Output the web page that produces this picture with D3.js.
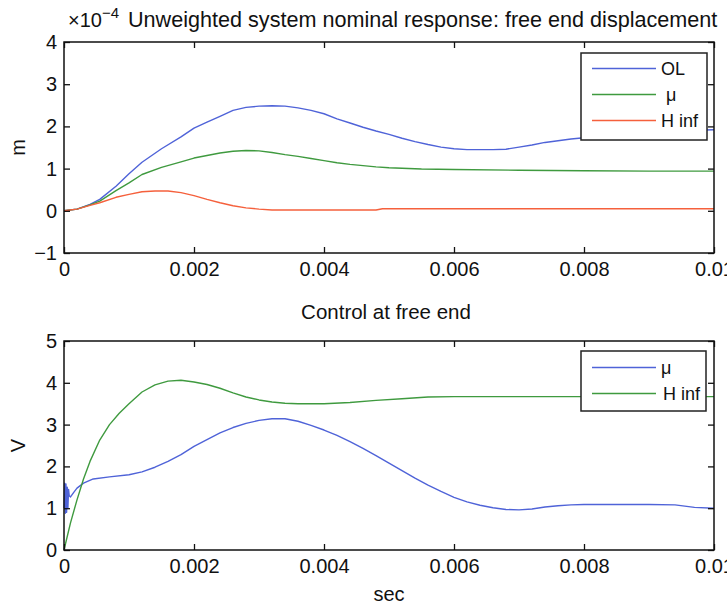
<!DOCTYPE html>
<html>
<head>
<meta charset="utf-8">
<script src="https://cdn.jsdelivr.net/npm/d3@7"></script>
<style>
  body { margin: 0; background: #fff; }
  svg text { font-family: "Liberation Sans", Arial, Helvetica, sans-serif; fill: #111; }
</style>
</head>
<body>
<script>
// two stacked panels: free end displacement (top) and control voltage (bottom)

// ---- data ----
var xTicks = [0, 0.002, 0.004, 0.006, 0.008, 0.01];
var topYTicks = [-1, 0, 1, 2, 3, 4];
var botYTicks = [0, 1, 2, 3, 4, 5];

// top panel, values in units of 1e-4 m
var olT = [0, 0.0002, 0.0004, 0.00055, 0.0008, 0.001, 0.0012, 0.0015, 0.0018, 0.002, 0.0022, 0.0024, 0.0026, 0.0028, 0.003, 0.0032, 0.0034, 0.0036, 0.0038, 0.004, 0.0042, 0.0044, 0.0046, 0.0048, 0.005, 0.0052, 0.0054, 0.0056, 0.0058, 0.006, 0.0062, 0.0064, 0.0066, 0.0068, 0.007, 0.0072, 0.0074, 0.0076, 0.0078, 0.008, 0.0085, 0.009, 0.0095, 0.01];
var olV = [0, 0.04, 0.15, 0.27, 0.58, 0.88, 1.15, 1.47, 1.75, 1.96, 2.1, 2.24, 2.38, 2.45, 2.48, 2.49, 2.48, 2.44, 2.38, 2.3, 2.18, 2.08, 1.98, 1.89, 1.81, 1.72, 1.64, 1.57, 1.51, 1.47, 1.45, 1.45, 1.45, 1.46, 1.51, 1.56, 1.62, 1.66, 1.7, 1.73, 1.8, 1.86, 1.9, 1.92];

var muT = [0, 0.0002, 0.0004, 0.00055, 0.0008, 0.001, 0.0012, 0.0015, 0.0018, 0.002, 0.0022, 0.0024, 0.0026, 0.0028, 0.003, 0.0032, 0.0034, 0.0036, 0.0038, 0.004, 0.0042, 0.0044, 0.0046, 0.0048, 0.005, 0.0055, 0.006, 0.007, 0.008, 0.009, 0.01];
var muV = [0, 0.04, 0.14, 0.23, 0.48, 0.66, 0.86, 1.03, 1.16, 1.25, 1.31, 1.37, 1.41, 1.43, 1.42, 1.38, 1.33, 1.29, 1.24, 1.19, 1.14, 1.1, 1.07, 1.04, 1.02, 0.99, 0.98, 0.96, 0.95, 0.94, 0.94];

var hinfT = [0, 0.0002, 0.0004, 0.00055, 0.0008, 0.001, 0.0012, 0.0014, 0.0016, 0.0018, 0.002, 0.0022, 0.0024, 0.0026, 0.0028, 0.003, 0.0032, 0.0048, 0.0049, 0.01];
var hinfV = [0, 0.04, 0.13, 0.19, 0.32, 0.39, 0.45, 0.47, 0.47, 0.43, 0.36, 0.27, 0.19, 0.12, 0.07, 0.04, 0.02, 0.02, 0.05, 0.05];

// bottom panel, volts
var uMuT = [0, 0.00001, 0.00002, 0.00003, 0.00004, 0.00005, 0.00006, 0.00007, 0.00008, 0.0001, 0.00015, 0.0002, 0.0003, 0.00045, 0.0007, 0.001, 0.0012, 0.0014, 0.0016, 0.0018, 0.002, 0.0022, 0.0024, 0.0026, 0.0028, 0.003, 0.0032, 0.0034, 0.0036, 0.0038, 0.004, 0.0042, 0.0044, 0.0046, 0.0048, 0.005, 0.0052, 0.0054, 0.0056, 0.0058, 0.006, 0.0062, 0.0064, 0.0066, 0.0068, 0.007, 0.0072, 0.0074, 0.0076, 0.0078, 0.008, 0.009, 0.0094, 0.0097, 0.01];
var uMuV = [1.0, 1.6, 0.88, 1.58, 0.9, 1.5, 1.0, 1.45, 1.3, 1.27, 1.38, 1.48, 1.6, 1.7, 1.75, 1.8, 1.87, 1.98, 2.12, 2.28, 2.48, 2.64, 2.8, 2.93, 3.03, 3.1, 3.14, 3.14, 3.08, 2.98, 2.87, 2.74, 2.59, 2.43, 2.26, 2.08, 1.9, 1.72, 1.55, 1.4, 1.26, 1.15, 1.07, 1.01, 0.97, 0.96, 0.98, 1.03, 1.06, 1.08, 1.09, 1.09, 1.08, 1.02, 1.0];

var uHinfT = [0, 0.0001, 0.0002, 0.0003, 0.0004, 0.00055, 0.0007, 0.00085, 0.001, 0.0012, 0.0014, 0.0016, 0.0018, 0.002, 0.0022, 0.0024, 0.0026, 0.0028, 0.003, 0.0032, 0.0034, 0.0036, 0.004, 0.0044, 0.0048, 0.0052, 0.0056, 0.006, 0.01];
var uHinfV = [0, 0.65, 1.2, 1.7, 2.12, 2.63, 3.0, 3.27, 3.5, 3.78, 3.95, 4.04, 4.06, 4.02, 3.96, 3.87, 3.76, 3.66, 3.59, 3.54, 3.51, 3.5, 3.5, 3.53, 3.58, 3.62, 3.66, 3.67, 3.67];

var blue = "#4f63d8", green = "#3f9a3f", red = "#f5603c";

var width = 727, height = 609;
var left = 64, right = 714;

var svg = d3.select("body").append("svg")
    .attr("width", width)
    .attr("height", height);

var x = d3.scaleLinear().domain([0, 0.01]).range([left, right]);

function zip(t, v) {
    return t.map(function(d, i) { return [d, v[i]]; });
}

function fmt(d) {
    return d < 0 ? "\u2212" + Math.abs(d) : String(d);
}

function panel(top, bottom, yDomain, yTicks, series, yLabel, legend) {
    var y = d3.scaleLinear().domain(yDomain).range([bottom, top]);
    var g = svg.append("g");

    var line = d3.line()
        .x(function(d) { return x(d[0]); })
        .y(function(d) { return y(d[1]); });

    series.forEach(function(s) {
        g.append("path")
            .datum(s.data)
            .attr("fill", "none")
            .attr("stroke", s.color)
            .attr("stroke-width", 1.4)
            .attr("stroke-linejoin", "round")
            .attr("d", line);
    });

    // axes, ticks pointing inward on all four sides
    var ax = [
        {gen: d3.axisBottom(x), t: "translate(0," + bottom + ")", labels: true},
        {gen: d3.axisTop(x), t: "translate(0," + top + ")", labels: false}
    ];
    ax.forEach(function(a) {
        var s = g.append("g")
            .attr("transform", a.t)
            .call(a.gen.tickValues(xTicks).tickSizeInner(-6).tickSizeOuter(0)
                .tickFormat(a.labels ? function(d) { return String(d); } : ""));
        s.select(".domain").remove();
        s.selectAll("line").attr("stroke", "#111").attr("stroke-width", 1.3);
        s.selectAll("text").attr("font-size", 20).attr("dy", "1.0em").attr("fill", "#111");
    });

    var ay = [
        {gen: d3.axisLeft(y), t: "translate(" + left + ",0)", labels: true},
        {gen: d3.axisRight(y), t: "translate(" + right + ",0)", labels: false}
    ];
    ay.forEach(function(a) {
        var s = g.append("g")
            .attr("transform", a.t)
            .call(a.gen.tickValues(yTicks).tickSizeInner(-6).tickSizeOuter(0)
                .tickFormat(a.labels ? fmt : ""));
        s.select(".domain").remove();
        s.selectAll("line").attr("stroke", "#111").attr("stroke-width", 1.3);
        s.selectAll("text").attr("font-size", 20).attr("x", -7).attr("fill", "#111");
    });

    g.append("rect")
        .attr("x", left).attr("y", top)
        .attr("width", right - left).attr("height", bottom - top)
        .attr("fill", "none")
        .attr("stroke", "#111")
        .attr("stroke-width", 1.5);

    g.append("text")
        .attr("transform", "translate(25," + ((top + bottom) / 2) + ") rotate(-90)")
        .attr("text-anchor", "middle")
        .attr("font-size", 20)
        .text(yLabel);

    // legend
    var lg = g.append("g");
    lg.append("rect")
        .attr("x", legend.x).attr("y", legend.y)
        .attr("width", legend.w).attr("height", legend.h)
        .attr("fill", "#fff")
        .attr("stroke", "#222")
        .attr("stroke-width", 1.5);
    series.forEach(function(s, i) {
        var cy = legend.y + legend.first + i * legend.step;
        lg.append("line")
            .attr("x1", legend.x + 11).attr("x2", legend.x + 75)
            .attr("y1", cy).attr("y2", cy)
            .attr("stroke", s.color)
            .attr("stroke-width", 1.5);
        lg.append("text")
            .attr("x", legend.x + 80 + (s.shift || 0))
            .attr("y", cy)
            .attr("dy", "0.36em")
            .attr("font-size", 18)
            .text(s.name);
    });
}

panel(42, 253, [-1, 4], topYTicks, [
    {name: "OL", color: blue, data: zip(olT, olV)},
    {name: "\u03bc", color: green, data: zip(muT, muV), shift: 5},
    {name: "H inf", color: red, data: zip(hinfT, hinfV)}
], "m", {x: 581, y: 53, w: 126, h: 87, first: 15.5, step: 26});

panel(341, 550, [0, 5], botYTicks, [
    {name: "\u03bc", color: blue, data: zip(uMuT, uMuV)},
    {name: "H inf", color: green, data: zip(uHinfT, uHinfV), shift: 2}
], "V", {x: 581, y: 351, w: 125, h: 60, first: 16.5, step: 26});

// titles
var t1 = svg.append("text")
    .attr("x", 68).attr("y", 27)
    .attr("font-size", 20);
t1.append("tspan").text("\u00d710");
t1.append("tspan").attr("font-size", 15).attr("dy", -9).text("\u22124");

svg.append("text")
    .attr("x", 128).attr("y", 27)
    .attr("font-size", 21.6)
    .text("Unweighted system nominal response: free end displacement");

svg.append("text")
    .attr("x", 386).attr("y", 319)
    .attr("text-anchor", "middle")
    .attr("font-size", 20.5)
    .text("Control at free end");

svg.append("text")
    .attr("x", 389).attr("y", 601)
    .attr("text-anchor", "middle")
    .attr("font-size", 20)
    .text("sec");
</script>
</body>
</html>
